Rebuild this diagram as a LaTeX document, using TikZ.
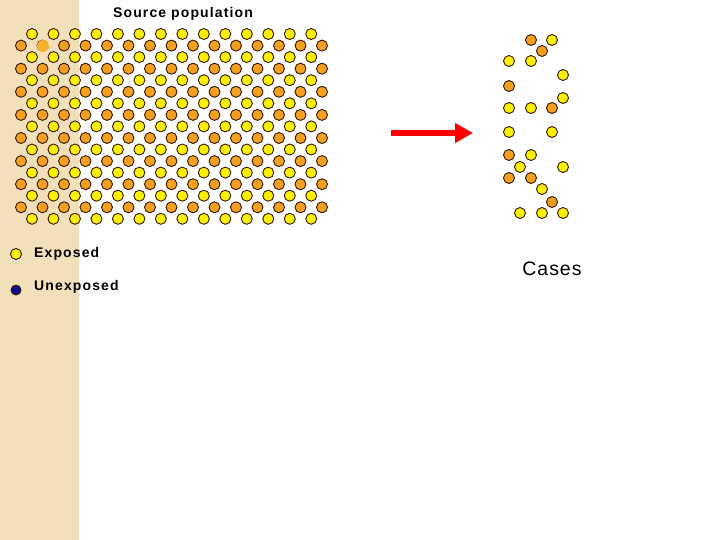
\documentclass[tikz,border=0pt]{standalone}
\usepackage{fontspec}
\setmainfont{Liberation Sans}
\newfontfamily\labelfont{Liberation Sans}[LetterSpace=8]
\newfontfamily\casesfont{Liberation Sans}[LetterSpace=5]
\usepackage{tikz}
\usetikzlibrary{arrows.meta}
\definecolor{strip}{RGB}{242,224,186}
\definecolor{dotyellow}{RGB}{255,240,0}
\definecolor{dotorange}{RGB}{246,160,32}
\definecolor{dotedge}{RGB}{50,20,0}
\tikzset{dot/.style={circle, draw=dotedge, line width=0.9pt, minimum size=11pt, inner sep=0pt, outer sep=0pt},
%one style per colour
yellowdot/.style={dot, fill=dotyellow},
orangedot/.style={dot, fill=dotorange},
bluedot/.style={dot, fill={rgb,255:red,10;green,10;blue,140}, minimum size=10pt},
label/.style={font=\labelfont\bfseries\fontsize{14}{16}\selectfont, inner sep=0pt}}

\begin{document}
\begin{tikzpicture}[x=1pt,y=-1pt]
\useasboundingbox (0,0) rectangle (720,540);
% shaded strip on the left
\fill[strip] (0,0) rectangle (79,540);

\node[label] (title) at (183,14) {Source population};

% source population
\foreach \j in {0,...,8}
  \foreach \i in {0,...,13}
    \node[yellowdot] (y-\i-\j) at (32+21.48*\i,34+23.1*\j) {};
\foreach \j in {0,...,7}
  \foreach \i in {0,...,14}
    \node[orangedot] (o-\i-\j) at (21+21.5*\i,45.6+23.1*\j) {};
\node[circle, fill={rgb,255:red,248;green,178;blue,48}, minimum size=12pt, inner sep=0pt] (mark) at (43,46) {};

% legend
\node[yellowdot] (exp) at (16,254) {};
\node[label, anchor=west] (exptext) at (34,254) {Exposed};
\node[bluedot] (unexp) at (16,290) {};
\node[label, anchor=west] (unexptext) at (34,287) {Unexposed};

% arrow
\coordinate (from) at (391,133);
\coordinate (to) at (473,133);
\draw[red, line width=6pt, -{Triangle[length=18pt,width=19pt]}] (from) -- (to);

% cases
\foreach \x/\y in {552/40,509/61,531/61,563/75,563/98,509/108,531/108,509/132,552/132,531/155,520/167,563/167,542/189,520/213,542/213,563/213}
  \node[yellowdot] (cy-\x-\y) at (\x,\y) {};
\foreach \x/\y in {531/40,542/51,509/86,552/108,509/155,509/178,531/178,552/202}
  \node[orangedot] (co-\x-\y) at (\x,\y) {};

\node[font=\casesfont\fontsize{19.5}{22}\selectfont, inner sep=0pt] (cases) at (552,269) {Cases};
\end{tikzpicture}
\end{document}
